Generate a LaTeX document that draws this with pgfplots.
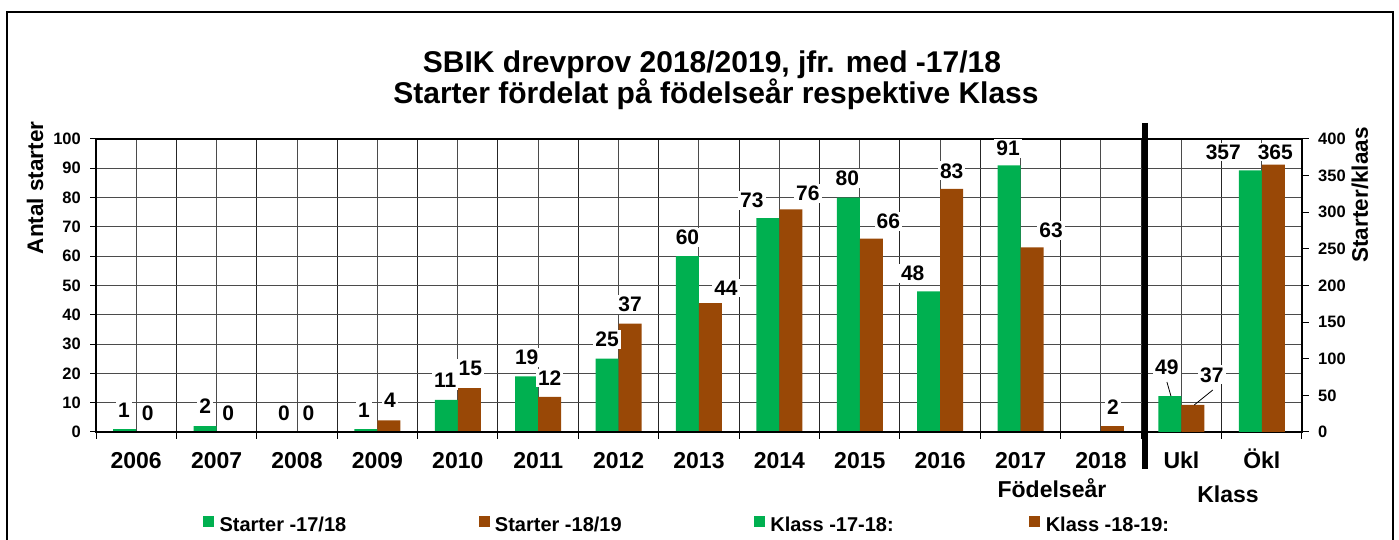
\documentclass[border=0pt]{standalone}
\usepackage{fontspec}
\setmainfont{Liberation Sans}
\usepackage{pgfplots}
\pgfplotsset{compat=1.18}
\usepackage{pgfplotstable}
\definecolor{cgreen}{RGB}{0,176,80}
\definecolor{cbrown}{RGB}{153,72,6}
\definecolor{gridc}{RGB}{75,75,75}

\pgfplotstableread{
x y dx dy
0 1 -0.7 19
1 2 0 20
2 0 -1.5 19
3 1 -2 19
4 11 -1 19
5 19 0 19
6 25 0 19
7 60 0 19
8 73 -16 18
9 80 -1 19
10 48 -16 18
11 91 -1 17
}\greenA
\pgfplotstableread{
x y dx dy
0 0 0 19
1 0 0 19
2 0 0 19
3 4 1 20
4 15 1 20
5 12 0 19
6 37 0 19
7 44 15.5 15
8 76 17 16
9 66 17 17
10 83 0 18
11 63 19 17
12 2 0.5 19
}\brownA
\pgfplotstableread{
x y dx dy
13 49 -3 29
14 357 -27 18.5
}\greenB
\pgfplotstableread{
x y dx dy
13 37 19 30
14 365 2 12.6
}\brownB

\pgfplotsset{
  lblstyle/.style={
    visualization depends on={\thisrow{dx}\as\mydx},
    visualization depends on={\thisrow{dy}\as\mydy},
    nodes near coords,
    every node near coord/.append style={anchor=center, xshift=\mydx pt, yshift=\mydy pt,
      fill=white, inner sep=2pt, text=black, font=\fontsize{21}{24}\selectfont\bfseries},
  },
}

\begin{document}
\begin{tikzpicture}
\path[use as bounding box] (0pt,0pt) rectangle (1399pt,540pt);
\draw[line width=1.8pt] (7pt,-5pt) -- (7pt,528pt) -- (1393pt,528pt) -- (1393pt,-5pt);
\node[anchor=base, font=\fontsize{30}{36}\selectfont\bfseries] at (712pt,467pt) {SBIK drevprov 2018/2019, jfr. med -17/18};
\node[anchor=base, font=\fontsize{30}{36}\selectfont\bfseries] at (716pt,436pt) {Starter fördelat på födelseår respektive Klass};

\begin{axis}[
  at={(96pt,108pt)}, anchor=south west,
  scale only axis, width=1206pt, height=293pt,
  xmin=-0.5, xmax=14.5, ymin=0, ymax=100,
  ybar, bar width=23pt,
  clip=false,
  /pgf/number format/assume math mode=true,
  xtick={0,...,14},
  xticklabels={2006,2007,2008,2009,2010,2011,2012,2013,2014,2015,2016,2017,2018,Ukl,Ökl},
  minor xtick={-0.5,0.5,...,14.5},
  ytick={0,10,...,100},
  xtick pos=bottom, ytick pos=left,
  tick align=outside,
  major tick length=6pt, minor tick length=7pt,
  major x tick style={draw=none},
  minor x tick style={black, line width=1pt},
  major y tick style={black, line width=1pt},
  xmajorgrids, xminorgrids, ymajorgrids,
  major grid style={gridc, line width=1pt},
  minor grid style={black!85, line width=1pt},
  axis line style={black, line width=1.5pt},
  x tick label style={font=\fontsize{23}{26}\selectfont\bfseries, inner sep=0pt, text height=17pt, text depth=0pt, yshift=-13pt},
  y tick label style={font=\fontsize{16.5}{19}\selectfont\bfseries, inner sep=0pt, xshift=-9pt},
]
\addplot[fill=cgreen, draw=none, bar shift=-11.5pt, lblstyle] table[x=x,y=y] {\greenA};
\addplot[fill=cbrown, draw=none, bar shift=11.5pt, lblstyle] table[x=x,y=y] {\brownA};
\draw[black, line width=2.5pt] (rel axis cs:0,0) -- (rel axis cs:1,0);
\node[rotate=90, font=\fontsize{22.5}{26}\selectfont\bfseries] at (axis description cs:-0.0506,0.833) {Antal starter};
\node[anchor=base, font=\fontsize{23}{26}\selectfont\bfseries] at (axis cs:11.39,-22.5) {Födelseår};
\node[anchor=base, font=\fontsize{23}{26}\selectfont\bfseries] at (axis cs:13.58,-24.2) {Klass};
\end{axis}

\begin{axis}[
  at={(96pt,108pt)}, anchor=south west,
  scale only axis, width=1206pt, height=293pt,
  xmin=-0.5, xmax=14.5, ymin=0, ymax=400,
  ybar, bar width=23pt, clip=false,
  /pgf/number format/assume math mode=true,
  axis x line=none, axis y line*=right,
  ytick={0,50,...,400},
  tick align=outside, major tick length=7pt,
  major y tick style={black, line width=1pt},
  axis line style={black, line width=1.5pt},
  y tick label style={font=\fontsize{16.5}{19}\selectfont\bfseries, inner sep=0pt, xshift=9pt},
  legend columns=4,
  legend style={at={(axis description cs:0.0887,-0.316)}, anchor=west, draw=none, fill=none,
    inner sep=0pt, nodes={inner sep=0pt},
    font=\fontsize{20}{24}\selectfont\bfseries,
    /tikz/every odd column/.append style={column sep=6pt},
    /tikz/every even column/.append style={column sep=0pt}},
]
\addlegendimage{legend image code/.code={\fill[cgreen] (0pt,-1pt) rectangle (10pt,9pt);}}
\addlegendentry{\makebox[259pt][l]{Starter -17/18}}
\addlegendimage{legend image code/.code={\fill[cbrown] (0pt,-1pt) rectangle (10pt,9pt);}}
\addlegendentry{\makebox[259pt][l]{Starter -18/19}}
\addlegendimage{legend image code/.code={\fill[cgreen] (0pt,-1pt) rectangle (10pt,9pt);}}
\addlegendentry{\makebox[259pt][l]{Klass -17-18:}}
\addlegendimage{legend image code/.code={\fill[cbrown] (0pt,-1pt) rectangle (10pt,9pt);}}
\addlegendentry{Klass -18-19:}
\addplot[fill=cgreen, draw=none, bar shift=-11.5pt, lblstyle, forget plot] table[x=x,y=y] {\greenB};
\addplot[fill=cbrown, draw=none, bar shift=11.5pt, lblstyle, forget plot] table[x=x,y=y] {\brownB};
\draw[black, line width=0.8pt] (axis cs:12.82,68.3) -- (axis cs:12.87,49.1);
\draw[black, line width=0.8pt] (axis cs:13.39,57.3) -- (axis cs:13.16,36.9);
\draw[black, line width=6pt] (axis cs:12.55,422) -- (axis cs:12.55,-50.4);
\node[rotate=90, font=\fontsize{22.5}{26}\selectfont\bfseries] at (axis description cs:1.048,0.809) {Starter/klaas};
\end{axis}
\end{tikzpicture}
\end{document}
